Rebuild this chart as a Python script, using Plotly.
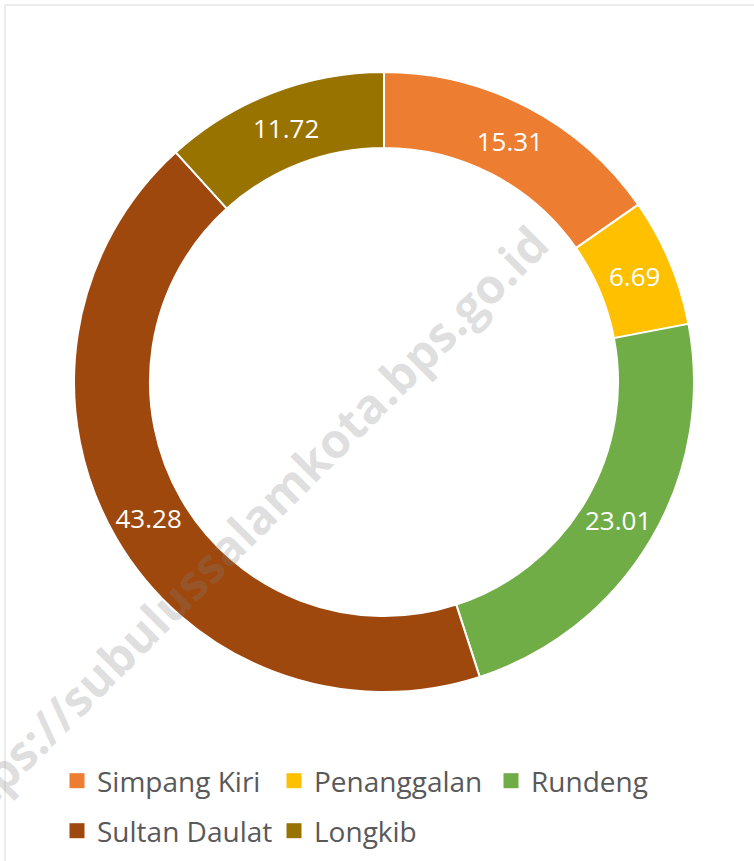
import plotly.graph_objects as go

categories = ["Simpang Kiri", "Penanggalan", "Rundeng", "Sultan Daulat", "Longkib"]
values = [15.31, 6.69, 23.01, 43.28, 11.72]
colors = ["#ED7D31", "#FFC000", "#70AD47", "#9E480E", "#997300"]

W, H = 754, 861

def px(x):
    return x / W

def py(y):
    return 1 - y / H

fig = go.Figure()

fig.add_trace(go.Pie(
    labels=categories,
    values=values,
    sort=False,
    direction="clockwise",
    rotation=0,
    hole=0.755,
    marker=dict(colors=colors, line=dict(color="white", width=2)),
    texttemplate="%{value:.2f}",
    textposition="inside",
    insidetextorientation="horizontal",
    textfont=dict(family="Open Sans", size=26, color="white"),
    domain=dict(x=[px(74), px(694)], y=[py(692), py(72)]),
    showlegend=False,
    hoverinfo="label+value",
))

# legend entries (square markers)
for i, (name, col) in enumerate(zip(categories, colors)):
    fig.add_trace(go.Scatter(
        x=[None], y=[None], mode="markers", name=name,
        marker=dict(symbol="square", size=15, color=col),
        legend="legend" if i < 3 else "legend2",
        showlegend=True,
    ))

legend_common = dict(
    orientation="h",
    font=dict(family="Open Sans", size=28, color="#595959"),
    bgcolor="rgba(0,0,0,0)",
    entrywidth=172,
    entrywidthmode="pixels",
    xanchor="left",
    yanchor="middle",
    itemclick=False,
    itemdoubleclick=False,
)

fig.update_layout(
    width=W, height=H,
    margin=dict(l=0, r=0, t=0, b=0),
    paper_bgcolor="white",
    plot_bgcolor="white",
    xaxis=dict(visible=False),
    yaxis=dict(visible=False),
    legend=dict(x=px(57), y=py(781), **legend_common),
    legend2=dict(x=px(57), y=py(831), **legend_common),
    shapes=[dict(
        type="rect", xref="paper", yref="paper",
        x0=px(5), x1=px(W + 10), y0=py(H + 10), y1=py(5),
        line=dict(color="#d9d9d9", width=1), fillcolor="rgba(0,0,0,0)",
        layer="below",
    )],
    annotations=[dict(
        text="https://subulussalamkota.bps.go.id",
        xref="paper", yref="paper",
        x=px(238), y=py(534), xanchor="center", yanchor="middle",
        textangle=-45, showarrow=False,
        font=dict(family="Open Sans", size=48, color="rgba(128,128,128,0.26)", weight="bold"),
    )],
)

fig.write_html(
    "out.html",
    config={"displayModeBar": False},
    post_script="document.body.style.margin='0px';",
)
